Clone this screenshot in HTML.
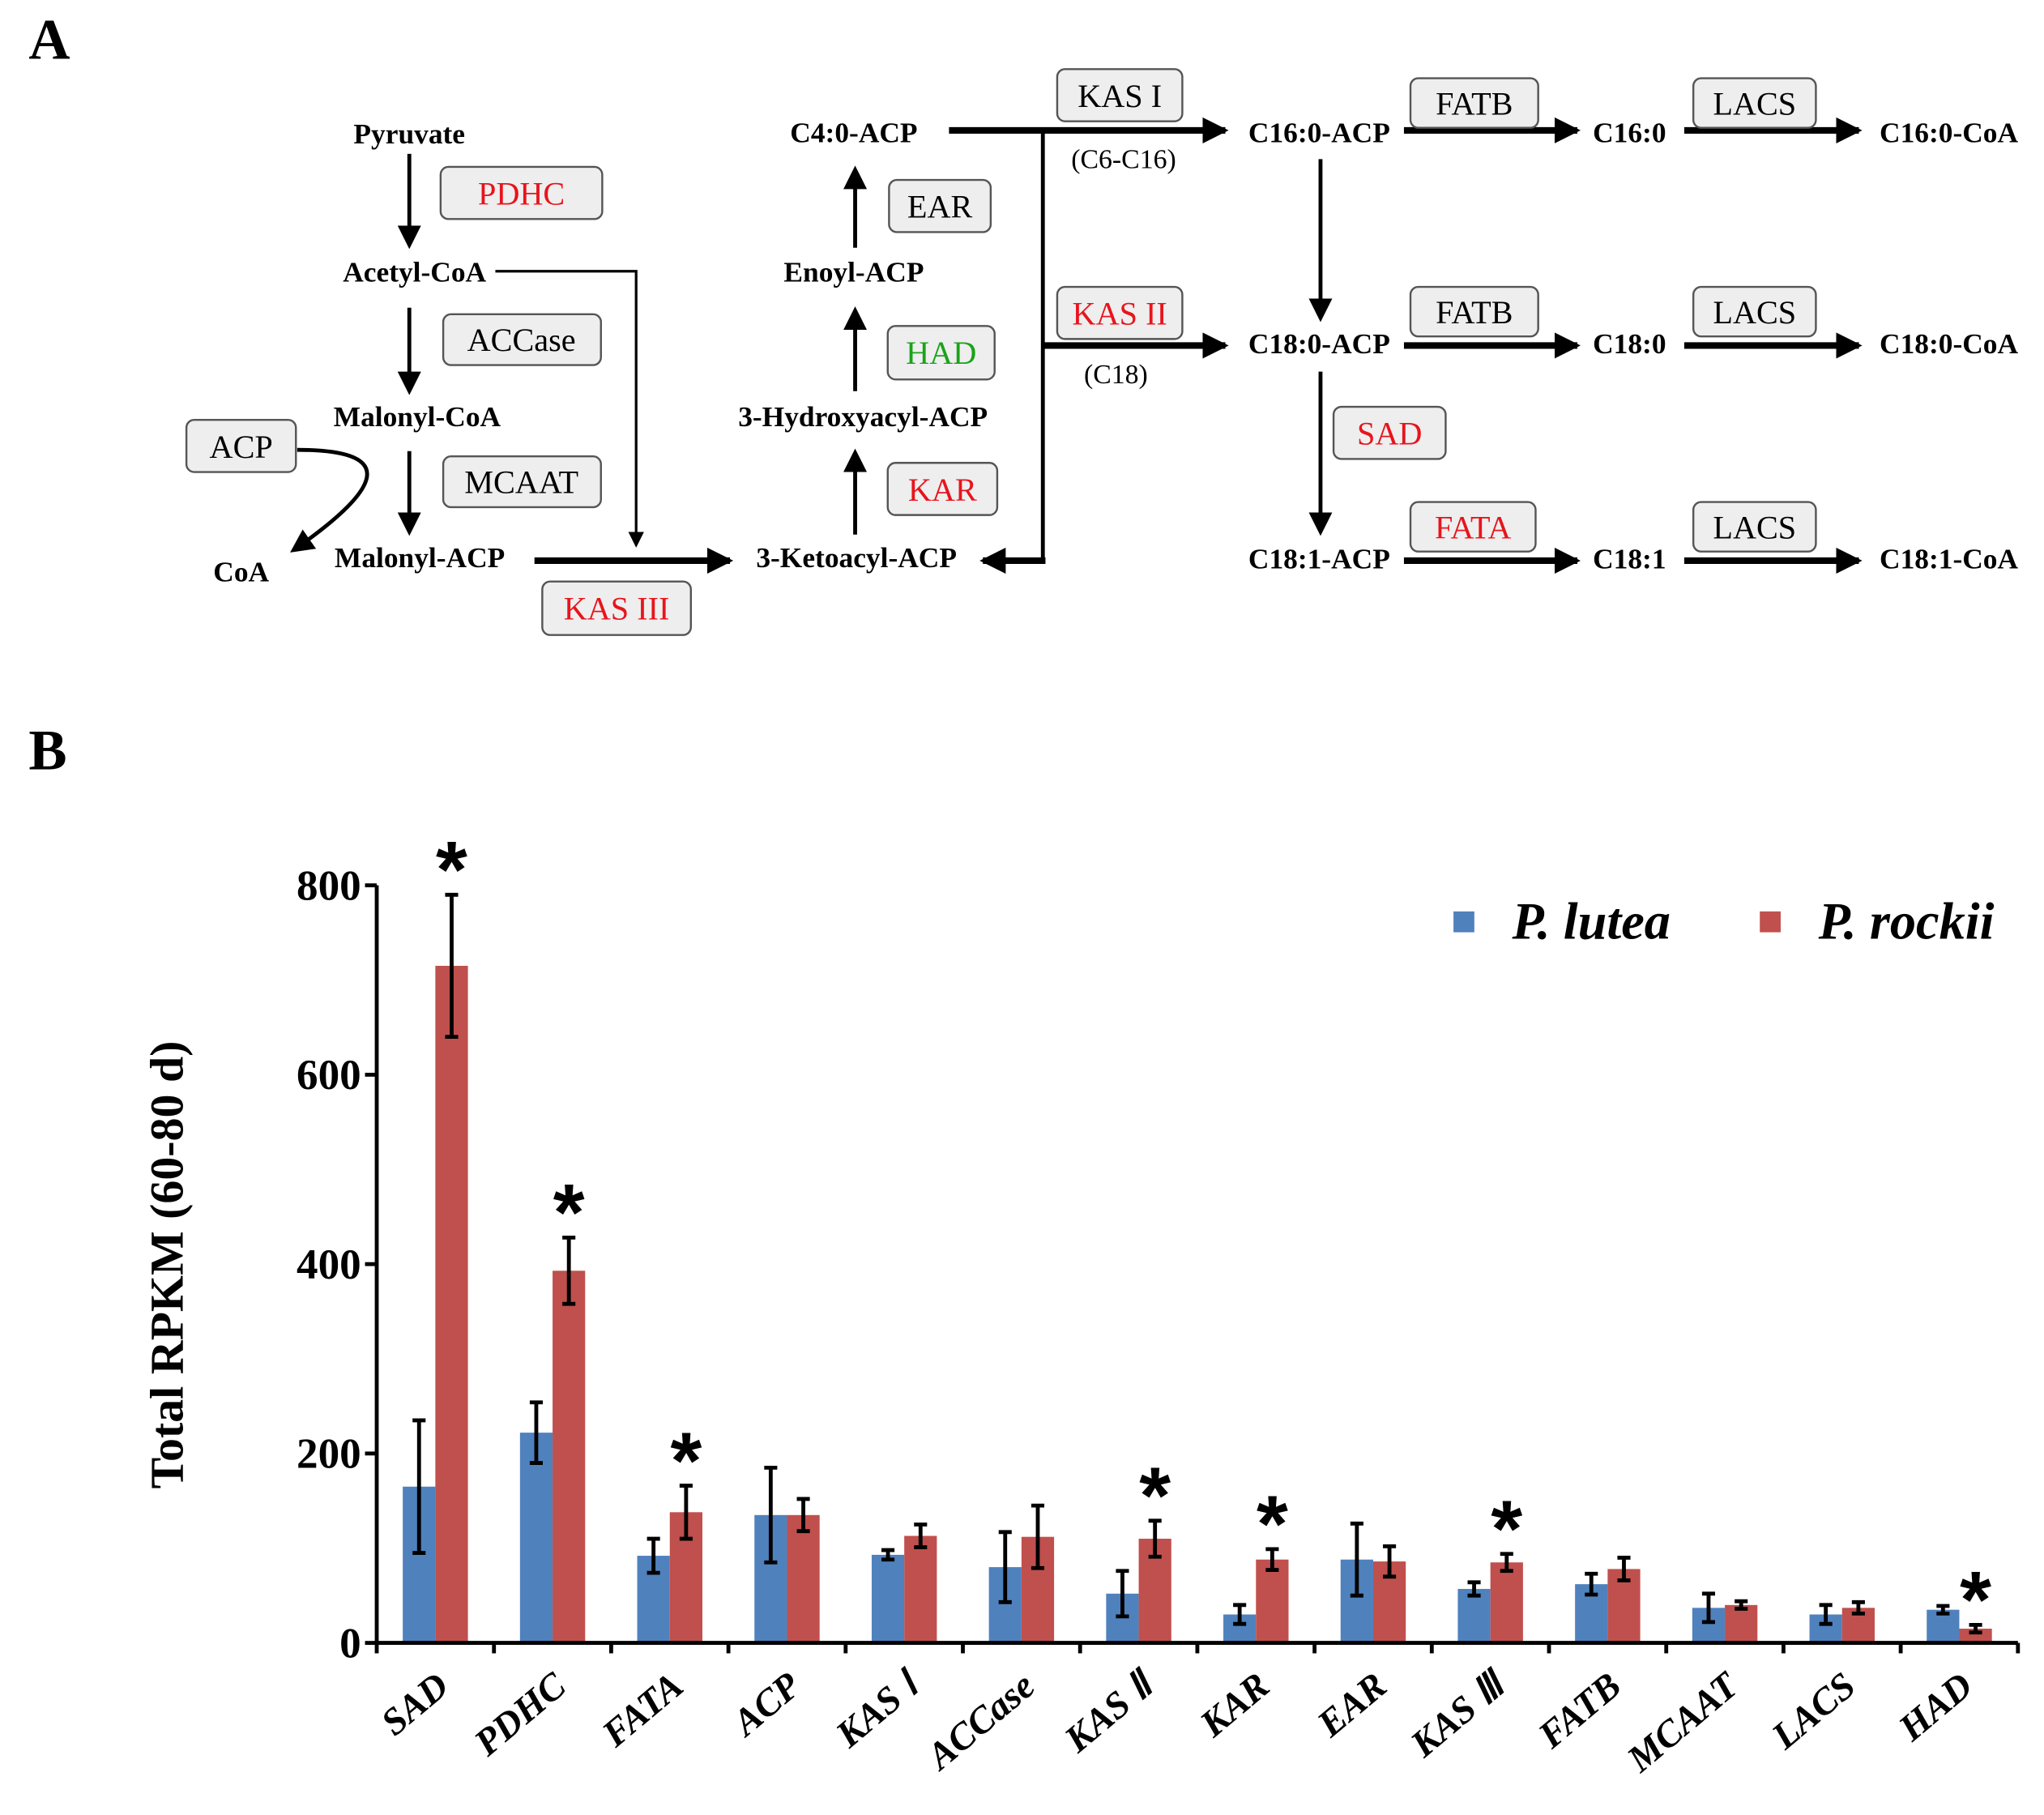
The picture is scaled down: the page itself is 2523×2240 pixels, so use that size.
<!DOCTYPE html>
<html><head><meta charset="utf-8"><style>
html,body{margin:0;padding:0;background:#fff;}
svg{display:block;font-family:"Liberation Serif",serif;}
.cp{font-weight:bold;font-size:22px;text-anchor:middle;}
.ez{font-size:25px;text-anchor:middle;}
.bx{fill:#eeeeee;stroke:#555;stroke-width:1.5;}
</style></head><body>
<svg id="fig" width="2523" height="2240" viewBox="0 0 1568 1392" preserveAspectRatio="none" xmlns="http://www.w3.org/2000/svg">
<defs>
<marker id="ah" markerWidth="6" markerHeight="6" refX="5" refY="3" orient="auto" markerUnits="strokeWidth"><path d="M0,0 L6,3 L0,6 z" fill="#000"/></marker>
<marker id="ahb" markerWidth="4" markerHeight="4" refX="3.5" refY="2" orient="auto" markerUnits="strokeWidth"><path d="M0,0 L4,2 L0,4 z" fill="#000"/></marker>
</defs>
<g>
<text x="22" y="45" font-size="44" font-weight="bold">A</text>
<g stroke="#000" fill="none">
<line x1="314" y1="118" x2="314" y2="188" stroke-width="3" marker-end="url(#ah)"/>
<line x1="314" y1="236" x2="314" y2="300" stroke-width="3" marker-end="url(#ah)"/>
<line x1="314" y1="346" x2="314" y2="408" stroke-width="3" marker-end="url(#ah)"/>
<polyline points="380,208 488,208 488,418" stroke-width="2" marker-end="url(#ah)"/>
<path d="M228,345 C300,345 300,370 225,422" stroke-width="3" marker-end="url(#ah)"/>
<line x1="410" y1="430" x2="560" y2="430" stroke-width="5" marker-end="url(#ahb)"/>
<line x1="656" y1="410" x2="656" y2="347" stroke-width="3" marker-end="url(#ah)"/>
<line x1="656" y1="300" x2="656" y2="238" stroke-width="3" marker-end="url(#ah)"/>
<line x1="656" y1="190" x2="656" y2="130" stroke-width="3" marker-end="url(#ah)"/>
<line x1="728" y1="100" x2="940" y2="100" stroke-width="5" marker-end="url(#ahb)"/>
<line x1="800" y1="100" x2="800" y2="430" stroke-width="3"/>
<line x1="802" y1="430" x2="754" y2="430" stroke-width="5" marker-end="url(#ahb)"/>
<line x1="800" y1="265" x2="940" y2="265" stroke-width="5" marker-end="url(#ahb)"/>
<line x1="1013" y1="122" x2="1013" y2="244" stroke-width="3" marker-end="url(#ah)"/>
<line x1="1013" y1="285" x2="1013" y2="408" stroke-width="3" marker-end="url(#ah)"/>
<line x1="1077" y1="100" x2="1210" y2="100" stroke-width="5" marker-end="url(#ahb)"/>
<line x1="1292" y1="100" x2="1426" y2="100" stroke-width="5" marker-end="url(#ahb)"/>
<line x1="1077" y1="265" x2="1210" y2="265" stroke-width="5" marker-end="url(#ahb)"/>
<line x1="1292" y1="265" x2="1426" y2="265" stroke-width="5" marker-end="url(#ahb)"/>
<line x1="1077" y1="430" x2="1210" y2="430" stroke-width="5" marker-end="url(#ahb)"/>
<line x1="1292" y1="430" x2="1426" y2="430" stroke-width="5" marker-end="url(#ahb)"/>
</g>
<text class="cp" x="314" y="110">Pyruvate</text>
<text class="cp" x="318" y="216">Acetyl-CoA</text>
<text class="cp" x="320" y="327">Malonyl-CoA</text>
<text class="cp" x="322" y="435">Malonyl-ACP</text>
<text class="cp" x="185" y="446" font-size="25">CoA</text>
<text class="cp" x="657" y="435">3-Ketoacyl-ACP</text>
<text class="cp" x="662" y="327">3-Hydroxyacyl-ACP</text>
<text class="cp" x="655" y="216">Enoyl-ACP</text>
<text class="cp" x="655" y="109">C4:0-ACP</text>
<text class="cp" x="1012" y="109">C16:0-ACP</text>
<text class="cp" x="1250" y="109">C16:0</text>
<text class="cp" x="1495" y="109">C16:0-CoA</text>
<text class="cp" x="1012" y="271">C18:0-ACP</text>
<text class="cp" x="1250" y="271">C18:0</text>
<text class="cp" x="1495" y="271">C18:0-CoA</text>
<text class="cp" x="1012" y="436">C18:1-ACP</text>
<text class="cp" x="1250" y="436">C18:1</text>
<text class="cp" x="1495" y="436">C18:1-CoA</text>
<text x="862" y="129" font-size="21" text-anchor="middle">(C6-C16)</text>
<text x="856" y="294" font-size="21" text-anchor="middle">(C18)</text>
<g>
<rect class="bx" x="338" y="128" width="124" height="40" rx="6"/><text class="ez" x="400" y="157" fill="#e8141c">PDHC</text>
<rect class="bx" x="340" y="241" width="121" height="39" rx="6"/><text class="ez" x="400" y="269">ACCase</text>
<rect class="bx" x="143" y="322" width="84" height="40" rx="6"/><text class="ez" x="185" y="351">ACP</text>
<rect class="bx" x="340" y="350" width="121" height="39" rx="6"/><text class="ez" x="400" y="378">MCAAT</text>
<rect class="bx" x="416" y="446" width="114" height="41" rx="6"/><text class="ez" x="473" y="475" fill="#e8141c">KAS III</text>
<rect class="bx" x="681" y="355" width="84" height="40" rx="6"/><text class="ez" x="723" y="384" fill="#e8141c">KAR</text>
<rect class="bx" x="681" y="250" width="82" height="41" rx="6"/><text class="ez" x="722" y="279" fill="#1aa31a">HAD</text>
<rect class="bx" x="682" y="138" width="78" height="40" rx="6"/><text class="ez" x="721" y="167">EAR</text>
<rect class="bx" x="811" y="53" width="96" height="40" rx="6"/><text class="ez" x="859" y="82">KAS I</text>
<rect class="bx" x="811" y="220" width="96" height="40" rx="6"/><text class="ez" x="859" y="249" fill="#e8141c">KAS II</text>
<rect class="bx" x="1082" y="60" width="98" height="38" rx="6"/><text class="ez" x="1131" y="88">FATB</text>
<rect class="bx" x="1299" y="60" width="94" height="38" rx="6"/><text class="ez" x="1346" y="88">LACS</text>
<rect class="bx" x="1082" y="220" width="98" height="38" rx="6"/><text class="ez" x="1131" y="248">FATB</text>
<rect class="bx" x="1299" y="220" width="94" height="38" rx="6"/><text class="ez" x="1346" y="248">LACS</text>
<rect class="bx" x="1023" y="312" width="86" height="40" rx="6"/><text class="ez" x="1066" y="341" fill="#e8141c">SAD</text>
<rect class="bx" x="1082" y="385" width="96" height="38" rx="6"/><text class="ez" x="1130" y="413" fill="#e8141c">FATA</text>
<rect class="bx" x="1299" y="385" width="94" height="38" rx="6"/><text class="ez" x="1346" y="413">LACS</text>
</g>
</g>
<g id="chart">
<text x="22" y="590" font-size="44" font-weight="bold">B</text>
<text transform="translate(140,970) rotate(-90)" font-size="36" font-weight="bold" text-anchor="middle">Total RPKM (60-80 d)</text>
<g>
<rect x="1115" y="699" width="16" height="16" fill="#4F81BD"/>
<text x="1160" y="720" font-size="40" font-weight="bold" font-style="italic">P. lutea</text>
<rect x="1350" y="699" width="16" height="16" fill="#C0504D"/>
<text x="1395" y="720" font-size="40" font-weight="bold" font-style="italic">P. rockii</text>
</g>
</g>
</svg>
<script>
const categories=["SAD","PDHC","FATA","ACP","KAS Ⅰ","ACCase","KAS Ⅱ","KAR","EAR","KAS Ⅲ","FATB","MCAAT","LACS","HAD"];
const luteaVals=[165,222,92,135,93,80,52,30,88,57,62,37,30,35];
const luteaErr=[70,32,18,50,5,37,24,10,38,7,11,15,10,4];
const rockiiVals=[715,393,138,135,113,112,110,88,86,85,78,40,37,15];
const rockiiErr=[75,35,28,17,12,33,19,11,16,9,12,4,6,4];
const significant=[true,true,true,false,false,false,true,true,false,true,false,false,false,true];
const yTicks=[0,200,400,600,800];
const NS="http://www.w3.org/2000/svg";
const chart=document.getElementById('chart');
const X0=289,X1=1548,Y0=1260,Y800=679;
const gw=(X1-X0)/categories.length, bw=25;
function y(v){return Y0-(v/800)*(Y0-Y800);}
function xc(i){return X0+gw*(i+0.5);}
function mk(tag,attrs){const e=document.createElementNS(NS,tag);for(const k in attrs)e.setAttribute(k,attrs[k]);chart.appendChild(e);return e;}
function errbar(x,v,e){
 const l=mk('path',{d:`M${x},${y(v-e)}V${y(v+e)}M${x-5},${y(v-e)}H${x+5}M${x-5},${y(v+e)}H${x+5}`,stroke:'#000','stroke-width':3,fill:'none'});
 
 
}
categories.forEach((c,i)=>{
 const cx=xc(i);
 const b=mk('rect',{x:cx-bw,y:y(luteaVals[i]),width:bw,height:Y0-y(luteaVals[i]),fill:'#4F81BD'});
 
 
 const r=mk('rect',{x:cx,y:y(rockiiVals[i]),width:bw,height:Y0-y(rockiiVals[i]),fill:'#C0504D'});
 
 
 errbar(cx-bw/2,luteaVals[i],luteaErr[i]);
 errbar(cx+bw/2,rockiiVals[i],rockiiErr[i]);
 if(significant[i]){
  const s=mk('text',{x:cx+bw/2,y:y(rockiiVals[i]+rockiiErr[i])+2,'font-size':62,'font-weight':'bold','text-anchor':'middle','font-family':'Liberation Sans, sans-serif'});
  s.textContent='*';
  
  
 }
 const t=mk('text',{transform:`translate(${cx+12},${Y0+36}) rotate(-40)`,'font-size':29,'font-weight':'bold','font-style':'italic','text-anchor':'end'});
 t.textContent=c;
 
 
});
const ax=mk('path',{d:`M${X0},${Y800}V${Y0}H${X1}`,stroke:'#000','stroke-width':3,fill:'none'});


for(let i=0;i<=categories.length;i++){
 const tk=mk('line',{x1:X0+gw*i,x2:X0+gw*i,y1:Y0,y2:Y0+8,stroke:'#000','stroke-width':3});
 
 
}
yTicks.forEach(v=>{
 const tk=mk('line',{x1:X0-9,x2:X0,y1:y(v),y2:y(v),stroke:'#000','stroke-width':3});
 
 
 const t=mk('text',{x:X0-12,y:y(v)+11,'font-size':33,'font-weight':'bold','text-anchor':'end'});
 t.textContent=v;
 
 
});
</script>
</body></html>
